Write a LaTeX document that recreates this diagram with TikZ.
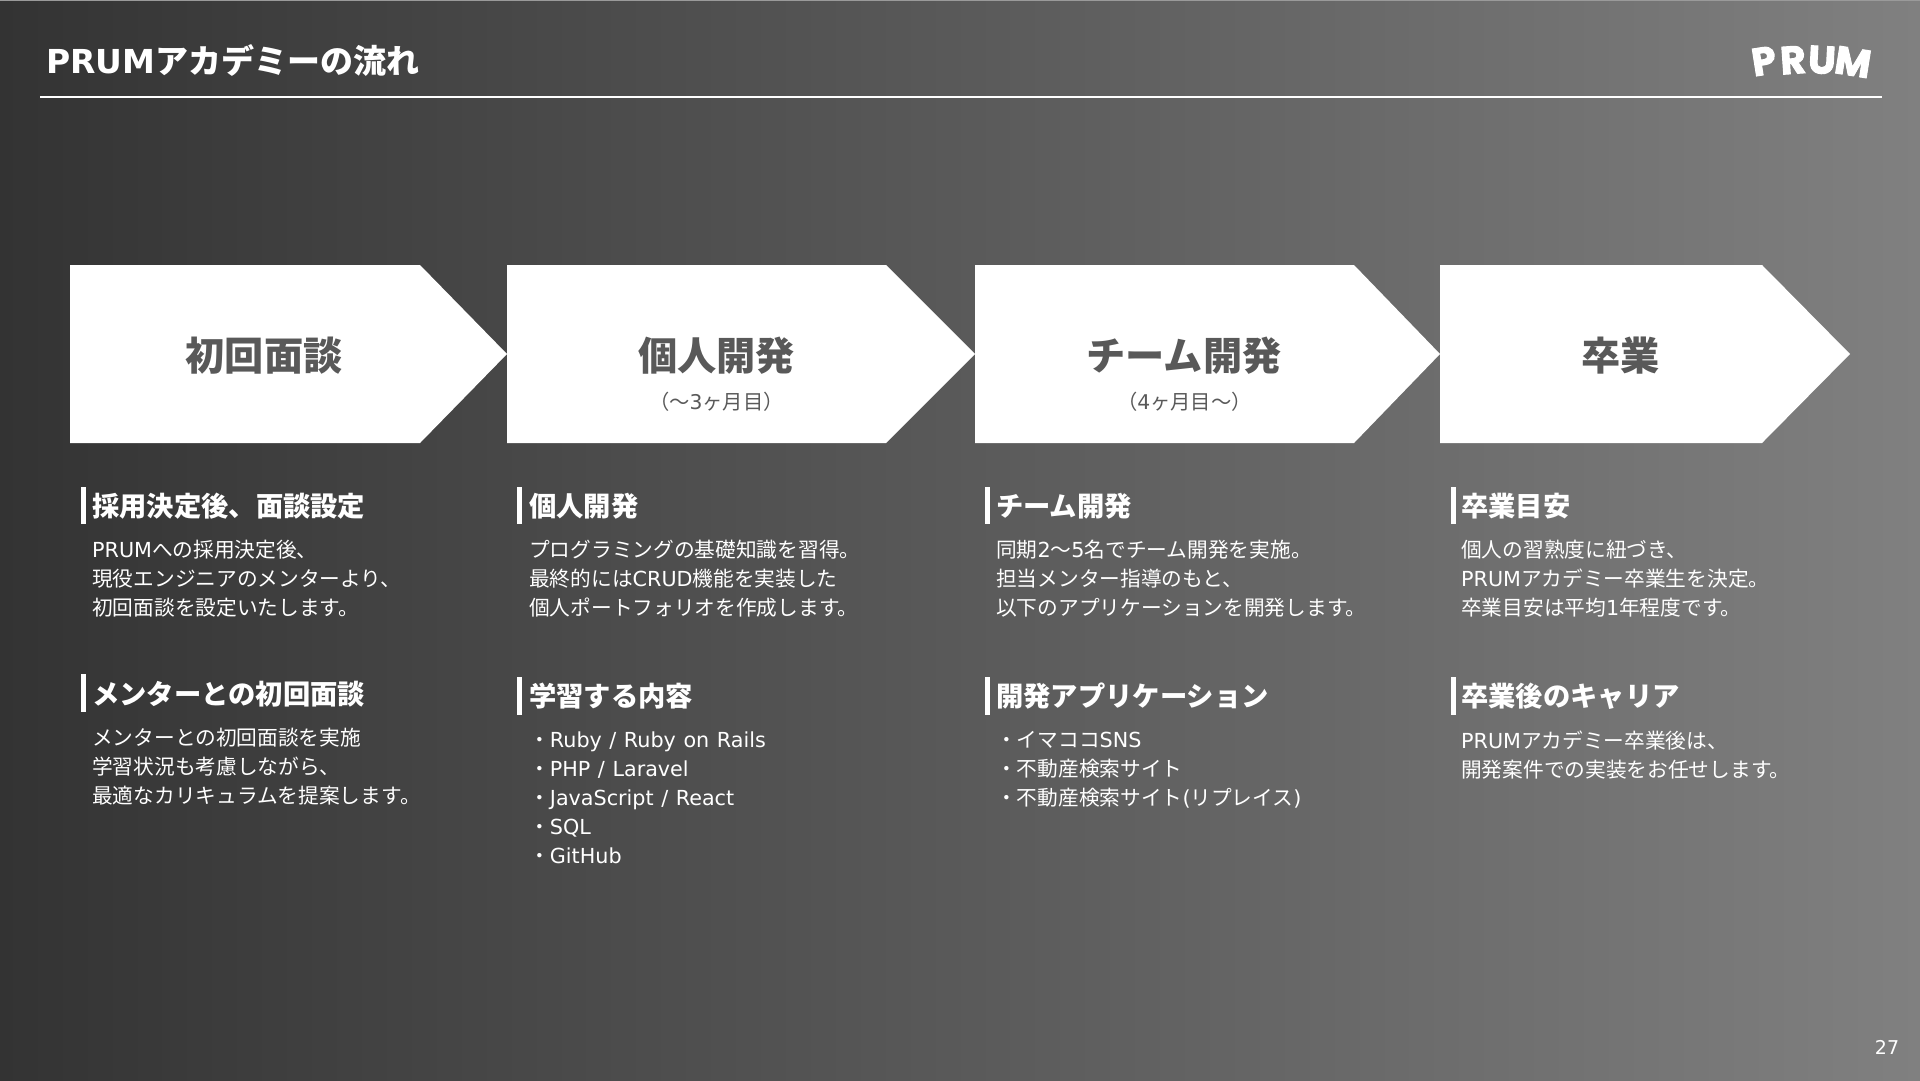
\documentclass[tikz,border=0pt]{standalone}
\usepackage{fontspec}
\setmainfont{Noto Sans CJK JP}
\newfontfamily\latfont[WordSpace=1.15]{DejaVu Sans}
\newfontfamily\logofont[FakeBold=2.5]{Poppins Bold}
\usetikzlibrary{positioning}
\definecolor{slideleft}{HTML}{333333}
\definecolor{slideright}{HTML}{808080}
\definecolor{stepgray}{HTML}{595959}
\definecolor{topedge}{HTML}{9A9A9A}
\newcommand{\lat}[1]{{\latfont #1}}
\newcommand{\fsize}[1]{\fontsize{#1}{#1}\selectfont}
\tikzset{
  steptitle/.style={text=stepgray, inner sep=0pt, font=\fsize{39.2}\bfseries},
  stepsub/.style={text=stepgray, inner sep=0pt, font=\fsize{20.3}},
  headtext/.style={white, anchor=west, inner sep=0pt, font=\fsize{27.3}\bfseries},
  bodytext/.style={white, anchor=west, inner sep=0pt, align=left,
    font=\fontsize{20.7}{28.9}\selectfont},
  logoletter/.style={white, inner sep=0pt, font=\fsize{39}\logofont},
}
\newcommand{\stepbox}[3]{% x-left, x-shoulder, x-tip
  \fill[white] (#1,265) -- (#2,265) -- (#3,354) -- (#2,443) -- (#1,443) -- cycle;
}
\newcommand{\headbar}[3]{% x-left, y-top, y-bottom
  \fill[white] (#1,#2) rectangle (#1+5,#3);
}

\begin{document}
\begin{tikzpicture}[x=1pt, y=-1pt]
  \useasboundingbox (0,0) rectangle (1920,1080);
  \shade[left color=slideleft, right color=slideright] (0,0) rectangle (1920,1080);
  \fill[topedge] (0,0) rectangle (1920,1);

  % header
  \node[white, anchor=west, inner sep=0pt, font=\fsize{33}\bfseries] (title) at (46,61)
    {\lat{PRUM}アカデミーの流れ};
  \draw[white, line width=2pt] (40,97) -- (1882,97);
  \node[logoletter, rotate=9] (logoP) at (1764,61) {P};
  \node[logoletter, rotate=4] (logoR) at (1793,60) {R};
  \node[logoletter, rotate=-3] (logoU) at (1822,60) {U};
  \node[logoletter, rotate=-9] (logoM) at (1853,62) {M};

  % the four steps
  \stepbox{70}{420}{507}
  \stepbox{507}{886}{975}
  \stepbox{975}{1354}{1440}
  \stepbox{1440}{1762}{1850}
  \node[steptitle] (step1) at (264,356) {初回面談};
  \node[steptitle] (step2) at (716.5,356) {個人開発};
  \node[stepsub] (sub2) at (716.5,402) {（〜\lat{3}ヶ月目）};
  \node[steptitle] (step3) at (1184,356) {チーム開発};
  \node[stepsub] (sub3) at (1184.5,402) {（\lat{4}ヶ月目〜）};
  \node[steptitle] (step4) at (1620.5,356) {卒業};

  % column 1
  \headbar{81}{487}{524}
  \node[headtext] (head1a) at (92,506) {採用決定後、面談設定};
  \node[bodytext] (body1a) at (92,579)
    {\lat{PRUM}への採用決定後、\\現役エンジニアのメンターより、\\初回面談を設定いたします。};
  \headbar{81}{674}{712}
  \node[headtext] (head1b) at (92,694) {メンターとの初回面談};
  \node[bodytext] (body1b) at (92,767)
    {メンターとの初回面談を実施\\学習状況も考慮しながら、\\最適なカリキュラムを提案します。};

  % column 2
  \headbar{517}{487}{524}
  \node[headtext] (head2a) at (529,506) {個人開発};
  \node[bodytext] (body2a) at (529,579)
    {プログラミングの基礎知識を習得。\\最終的には\lat{CRUD}機能を実装した\\個人ポートフォリオを作成します。};
  \headbar{517}{677}{715}
  \node[headtext] (head2b) at (529,696) {学習する内容};
  \node[bodytext] (body2b) at (529,798)
    {・\lat{Ruby / Ruby on Rails}\\・\lat{PHP / Laravel}\\・\lat{JavaScript / React}\\・\lat{SQL}\\・\lat{GitHub}};

  % column 3
  \headbar{984.5}{487}{524}
  \node[headtext] (head3a) at (996,506) {チーム開発};
  \node[bodytext] (body3a) at (996,579)
    {同期\lat{2}〜\lat{5}名でチーム開発を実施。\\担当メンター指導のもと、\\以下のアプリケーションを開発します。};
  \headbar{984.5}{677}{715}
  \node[headtext] (head3b) at (996,696) {開発アプリケーション};
  \node[bodytext] (body3b) at (996,770)
    {・イマココ\lat{SNS}\\・不動産検索サイト\\・不動産検索サイト\lat{(}リプレイス\lat{)}};

  % column 4
  \headbar{1451}{487}{524}
  \node[headtext] (head4a) at (1461,506) {卒業目安};
  \node[bodytext] (body4a) at (1461,579)
    {個人の習熟度に紐づき、\\\lat{PRUM}アカデミー卒業生を決定。\\卒業目安は平均\lat{1}年程度です。};
  \headbar{1451}{677}{715}
  \node[headtext] (head4b) at (1461,696) {卒業後のキャリア};
  \node[bodytext] (body4b) at (1461,755)
    {\lat{PRUM}アカデミー卒業後は、\\開発案件での実装をお任せします。};

  \node[white, inner sep=0pt, font=\fsize{19}\latfont] (pagenum) at (1887,1047) {27};
\end{tikzpicture}
\end{document}
